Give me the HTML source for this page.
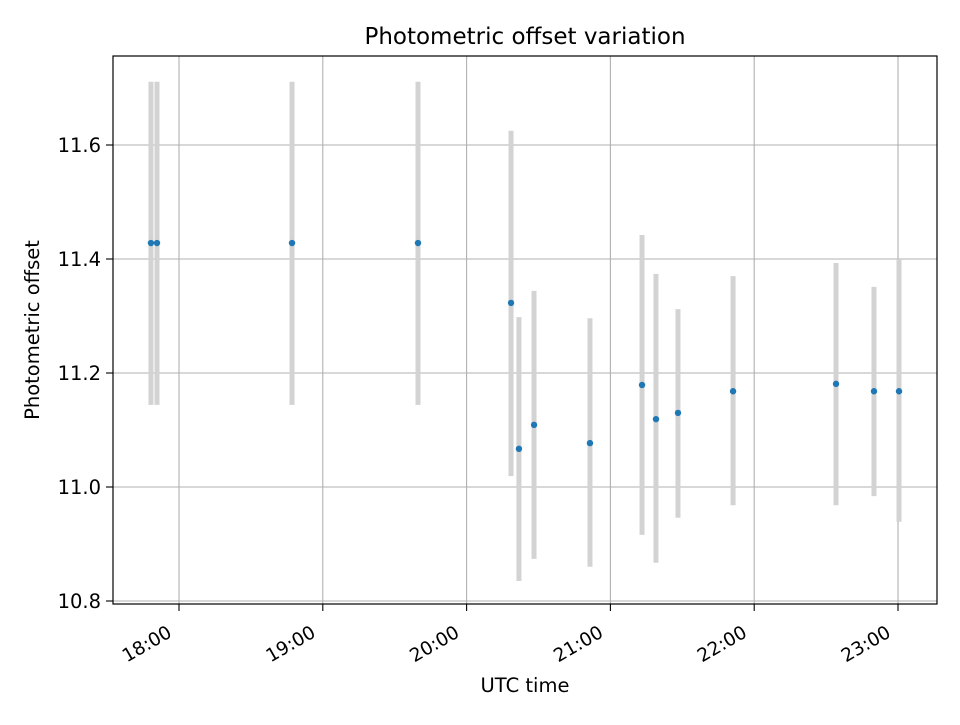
<!DOCTYPE html>
<html><head><meta charset="utf-8"><style>
body{margin:0;background:#fff;}
svg text{font-family:"DejaVu Sans","Liberation Sans",sans-serif;fill:#000;}
</style></head><body>
<svg id="chart" width="960" height="720" xmlns="http://www.w3.org/2000/svg">
<rect width="960" height="720" fill="#fff"/>
<g id="grid"></g>
<g id="bars"></g>
<g id="pts"></g>
<rect x="113" y="56" width="824" height="548" fill="none" stroke="#000" stroke-width="1.2"/>
<g id="ticks"></g>
<text x="525" y="44" font-size="23" text-anchor="middle">Photometric offset variation</text>
<text x="525" y="692" font-size="19.5" text-anchor="middle">UTC time</text>
<text transform="translate(39,330) rotate(-90)" font-size="19.5" text-anchor="middle">Photometric offset</text>
</svg>
<script>
const times=[17.805,17.847,18.786,19.662,20.309,20.364,20.469,20.858,21.22,21.317,21.47,21.853,22.569,22.833,23.007];
const values=[11.428,11.428,11.428,11.428,11.323,11.067,11.109,11.077,11.179,11.119,11.130,11.168,11.181,11.168,11.168];
const lows=[11.144,11.144,11.144,11.144,11.019,10.835,10.874,10.860,10.916,10.867,10.946,10.968,10.968,10.984,10.939];
const highs=[11.711,11.711,11.711,11.711,11.625,11.298,11.344,11.296,11.442,11.374,11.312,11.370,11.393,11.351,11.400];
const xTicks=[18,19,20,21,22,23];
const xTickLabels=["18:00","19:00","20:00","21:00","22:00","23:00"];
const yTicks=[10.8,11.0,11.2,11.4,11.6];
const yTickLabels=["10.8","11.0","11.2","11.4","11.6"];
const NS="http://www.w3.org/2000/svg";
const X=t=>179+(t-18)*143.8;
const Y=v=>487-(v-11.0)*570;
function mk(tag,attrs,parent){const e=document.createElementNS(NS,tag);for(const k in attrs)e.setAttribute(k,attrs[k]);document.getElementById(parent).appendChild(e);return e;}
xTicks.forEach((t,i)=>{
 const g=mk('line',{x1:X(t),x2:X(t),y1:56,y2:604,stroke:'#b0b0b0','stroke-width':1.1},'grid');
 
 
 const tk=mk('line',{x1:X(t),x2:X(t),y1:604,y2:611,stroke:'#000','stroke-width':1.1},'ticks');
 
 
 const tx=mk('text',{transform:`translate(${X(t)-6},${636}) rotate(-30)`,'font-size':18.5,'text-anchor':'end'},'ticks');
 tx.textContent=xTickLabels[i];
 
 
});
yTicks.forEach((v,i)=>{
 const g=mk('line',{x1:113,x2:937,y1:Y(v),y2:Y(v),stroke:'#b0b0b0','stroke-width':1.1},'grid');
 
 
 const tk=mk('line',{x1:106,x2:113,y1:Y(v),y2:Y(v),stroke:'#000','stroke-width':1.1},'ticks');
 
 
 const tx=mk('text',{x:101,y:Y(v)+7,'font-size':19.5,'text-anchor':'end'},'ticks');
 tx.textContent=yTickLabels[i];
 
 
});
times.forEach((t,i)=>{
 const b=mk('line',{x1:X(t),x2:X(t),y1:Y(highs[i]),y2:Y(lows[i]),stroke:'#d3d3d3','stroke-width':5},'bars');
 
 
 const p=mk('circle',{cx:X(t),cy:Y(values[i]),r:3.2,fill:'#1f77b4'},'pts');
 
 
});
</script>
</body></html>
